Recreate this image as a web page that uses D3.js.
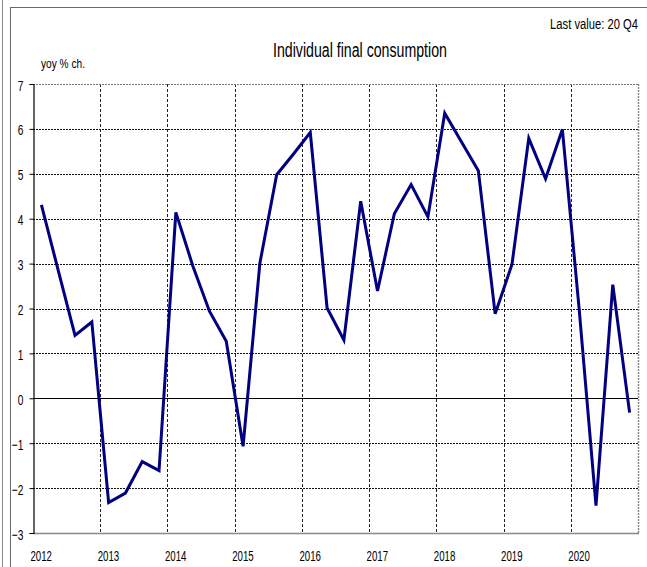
<!DOCTYPE html>
<html><head><meta charset="utf-8">
<script src="https://cdn.jsdelivr.net/npm/d3@7"></script>
<style>
body{margin:0;background:#fff;}
svg{display:block;font-family:"Liberation Sans",Arial,sans-serif;}
</style></head>
<body><svg id="c" width="647" height="567"></svg>
<script>
const title = "Individual final consumption";
const unitLabel = "yoy % ch.";
const lastValue = "Last value: 20 Q4";
const years = [2012,2013,2014,2015,2016,2017,2018,2019,2020];
const yTicks = [-3,-2,-1,0,1,2,3,4,5,6,7];
const quarters = [
 "2012Q1","2012Q2","2012Q3","2012Q4","2013Q1","2013Q2","2013Q3","2013Q4",
 "2014Q1","2014Q2","2014Q3","2014Q4","2015Q1","2015Q2","2015Q3","2015Q4",
 "2016Q1","2016Q2","2016Q3","2016Q4","2017Q1","2017Q2","2017Q3","2017Q4",
 "2018Q1","2018Q2","2018Q3","2018Q4","2019Q1","2019Q2","2019Q3","2019Q4",
 "2020Q1","2020Q2","2020Q3","2020Q4"];
const values = [
 4.31,2.85,1.40,1.70,-2.32,-2.11,-1.41,-1.61,
 4.14,2.96,1.94,1.27,-1.07,3.01,4.98,5.44,
 5.92,2.01,1.30,4.39,2.39,4.11,4.76,4.04,
 6.35,5.71,5.07,1.88,2.98,5.79,4.89,5.99,
 1.98,-2.39,2.53,-0.32];

const svg = d3.select("#c");
const L = 33, R = 638, T = 84, B = 533;
const x = d3.scaleLinear().domain([2012, 2021]).range([L, R]);
const y = d3.scaleLinear().domain([-3, 7]).range([B, T]);
const qx = q => { const yr = +q.slice(0,4), n = +q.slice(5); return yr + (n - 0.5) / 4; };
function squeeze(sel, f){ sel.each(function(){ const w = this.getComputedTextLength(); d3.select(this).attr("textLength", w*f).attr("lengthAdjust","spacingAndGlyphs"); }); }
function fitTo(sel, w){ sel.attr("textLength", w).attr("lengthAdjust","spacingAndGlyphs"); }
// narrow text placed with a horizontal scale transform
function narrowText(str, px, py, size, width, anchor){
  const t = svg.append("text").attr("font-size", size).attr("text-anchor", anchor || "start").text(str);
  const w = t.node().getComputedTextLength();
  t.attr("transform", `translate(${px},${py}) scale(${width / w},1)`);
  return t;
}

// outer frame
svg.append("line").attr("x1",2.5).attr("x2",2.5).attr("y1",0).attr("y2",567).attr("stroke","#8a8a8a").attr("stroke-width",1);
svg.append("line").attr("x1",10.5).attr("x2",10.5).attr("y1",7).attr("y2",567).attr("stroke","#6a6a6a").attr("stroke-width",1);
svg.append("line").attr("x1",10.5).attr("x2",647).attr("y1",7.5).attr("y2",7.5).attr("stroke","#6a6a6a").attr("stroke-width",1);

// horizontal gridlines
const g = svg.append("g");
yTicks.filter(v => v > -3 && v < 7 && v !== 0).forEach(v => {
  g.append("line").attr("x1",L).attr("x2",R).attr("y1",Math.round(y(v))+0.5).attr("y2",Math.round(y(v))+0.5)
   .attr("stroke","#111").attr("stroke-width",1).attr("stroke-dasharray","2,1");
});
// vertical gridlines
years.filter(v => v > 2012).forEach(v => {
  g.append("line").attr("x1",Math.round(x(v))+0.5).attr("x2",Math.round(x(v))+0.5).attr("y1",T).attr("y2",B)
   .attr("stroke","#222").attr("stroke-width",1).attr("stroke-dasharray","3,2");
});
// plot border top/right dotted gray
g.append("line").attr("x1",L).attr("x2",R).attr("y1",T+0.5).attr("y2",T+0.5).attr("stroke","#777").attr("stroke-dasharray","2,1");
g.append("line").attr("x1",R+0.5).attr("x2",R+0.5).attr("y1",T).attr("y2",B).attr("stroke","#888").attr("stroke-dasharray","2,1").attr("stroke-width",1.5);
// bottom line
g.append("line").attr("x1",L).attr("x2",R+1).attr("y1",B+0.5).attr("y2",B+0.5).attr("stroke","#888").attr("stroke-width",1.5);
// zero line
g.append("line").attr("x1",L).attr("x2",R).attr("y1",Math.round(y(0))+0.5).attr("y2",Math.round(y(0))+0.5).attr("stroke","#000").attr("stroke-width",1.2);
// y axis
const yAxis = d3.axisLeft(y).tickValues(yTicks).tickSize(4).tickPadding(6).tickFormat(d3.format("d"));
const ya = svg.append("g").attr("transform",`translate(${L+0.5},0)`).call(yAxis);
ya.attr("font-family",null).attr("font-size",null);
ya.select(".domain").attr("stroke","#000").attr("stroke-width",1.2);
ya.selectAll(".tick line").attr("stroke","#000");
ya.selectAll(".tick text").attr("font-size",15).attr("fill","#000").attr("dy","0.4em").call(squeeze, 0.68);

// x labels
const xAxis = d3.axisBottom(x).tickValues(years).tickSize(0).tickPadding(0).tickFormat(d3.format("d"));
const xa = svg.append("g").attr("transform",`translate(0,${B})`).call(xAxis);
xa.attr("font-family",null).attr("font-size",null);
xa.select(".domain").remove();
xa.selectAll(".tick text").attr("font-size",15).attr("fill","#000").attr("text-anchor","start")
  .attr("dx",-3).attr("y",28).attr("dy",0).call(fitTo, 21.5);

// line
const line = d3.line().x(d => x(qx(d.q))).y(d => y(d.v));
svg.append("path").datum(quarters.map((q,i)=>({q, v: values[i]})))
  .attr("d", line).attr("fill","none").attr("stroke","#000080").attr("stroke-width",3).attr("stroke-linejoin","miter");

// texts
narrowText(title, 273, 57, 19.5, 174, "start");
narrowText(lastValue, 638, 29, 15.5, 88, "end");
narrowText(unitLabel, 41, 68, 12.5, 44, "start");
</script></body></html>
